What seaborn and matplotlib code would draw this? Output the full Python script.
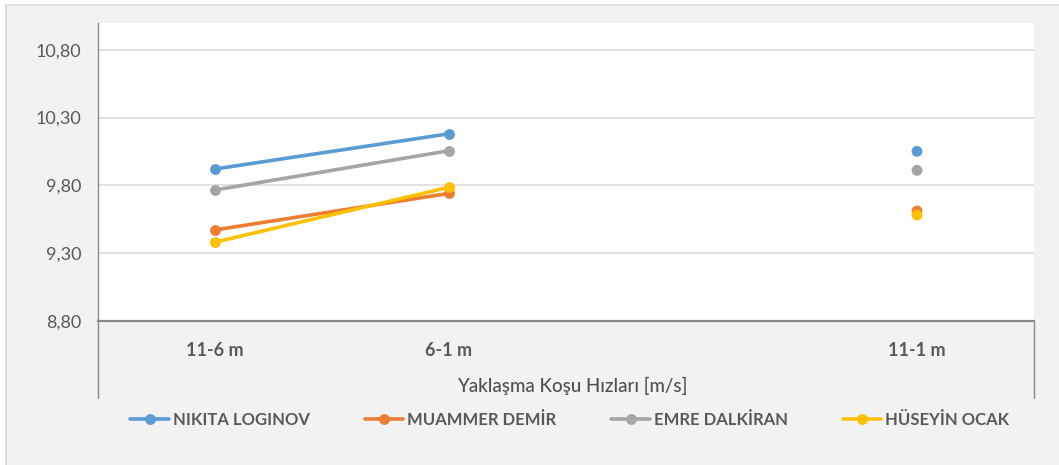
import pandas as pd
import matplotlib
matplotlib.use('Agg')
import matplotlib.pyplot as plt
import seaborn as sns
from matplotlib.lines import Line2D
from matplotlib.patches import Rectangle
from matplotlib.ticker import FuncFormatter

categories = ['11-6 m', '6-1 m', '', '11-1 m']
athletes = ['NIKITA LOGINOV', 'MUAMMER DEMİR', 'EMRE DALKİRAN', 'HÜSEYİN OCAK']
split_11_6 = [9.92, 9.47, 9.765, 9.38]
split_6_1 = [10.18, 9.74, 10.055, 9.785]
total_11_1 = [10.05, 9.61, 9.91, 9.58]
colors = ['#5B9BD5', '#ED7D31', '#A5A5A5', '#FFC000']

sns.set_style('white')
plt.rcParams['font.family'] = ['Lato', 'DejaVu Sans']

lines = pd.DataFrame({
    'athlete': athletes * 2,
    'pos': [categories.index('11-6 m')] * 4 + [categories.index('6-1 m')] * 4,
    'value': split_11_6 + split_6_1,
})
points = pd.DataFrame({
    'athlete': athletes,
    'pos': [categories.index('11-1 m')] * 4,
    'value': total_11_1,
})
pal = dict(zip(athletes, colors))

fig = plt.figure(figsize=(10.59, 4.65), dpi=100, facecolor='white')
W, H = 1059, 465
fig.patches.append(Rectangle((5.5 / W, -0.1), 1.2, (H - 5.5) / H + 0.1, transform=fig.transFigure,
                             facecolor='#F2F2F2', edgecolor='#D9D9D9', linewidth=1.2, zorder=-10))

ax = fig.add_axes([98 / W, 1 - 320.7 / H, (1034 - 98) / W, (320.7 - 22.7) / H])
ax.set_facecolor('white')

sns.lineplot(data=lines, x='pos', y='value', hue='athlete', hue_order=athletes, palette=pal,
             marker='o', markersize=7.8, markeredgewidth=0, linewidth=2.6, legend=False,
             ax=ax, zorder=3)
sns.scatterplot(data=points, x='pos', y='value', hue='athlete', hue_order=athletes, palette=pal,
                s=61, linewidth=0, legend=False, ax=ax, zorder=3)

ax.set_xlim(-0.5, 3.5)
ax.set_ylim(8.8, 11.0)
ax.set_yticks([8.8, 9.3, 9.8, 10.3, 10.8])
ax.yaxis.set_major_formatter(FuncFormatter(lambda v, p: f'{v:.2f}'.replace('.', ',')))
ax.set_xticks(range(len(categories)))
ax.set_xticklabels(categories, fontweight='bold')
ax.grid(axis='y', color='#D9D9D9', linewidth=1.1)
ax.set_axisbelow(True)
ax.tick_params(axis='y', length=0, pad=12, labelsize=13, labelcolor='#595959')
ax.tick_params(axis='x', length=0, pad=15, labelsize=13, labelcolor='#595959')
ax.set_xlabel('')
ax.set_ylabel('')
for side in ['top', 'right']:
    ax.spines[side].set_visible(False)
ax.spines['left'].set_color('#898989')
ax.spines['left'].set_linewidth(1.0)
ax.spines['bottom'].set_color('#898989')
ax.spines['bottom'].set_linewidth(1.6)

# category box below the axis
for xp in [98 / W, 1034 / W]:
    fig.add_artist(Line2D([xp, xp], [1 - 320.7 / H, 1 - 398 / H], color='#898989', linewidth=1.0))

fig.text(572 / W, 1 - 386 / H, 'Yaklaşma Koşu Hızları [m/s]', ha='center', va='center',
         fontsize=13.5, color='#505050', fontweight='medium')

handles = [Line2D([], [], color=c, marker='o', markersize=7.8, markeredgewidth=0, linewidth=2.6)
           for c in colors]
leg = fig.legend(handles, athletes, loc='center', bbox_to_anchor=(570 / W, 1 - 420 / H), ncol=4,
                 frameon=False, handlelength=2.3, handletextpad=0.25, columnspacing=3.3,
                 borderpad=0, prop={'weight': 'bold', 'size': 12})
for t in leg.get_texts():
    t.set_color('#595959')

fig.savefig('out.png', dpi=100, facecolor=fig.get_facecolor())
